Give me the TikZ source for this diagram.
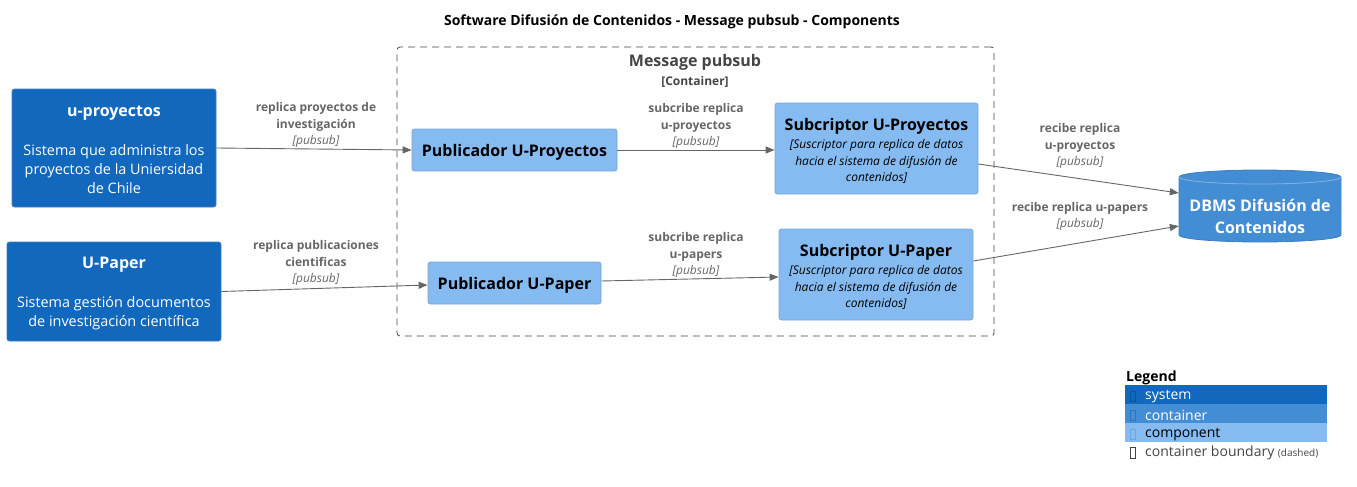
\documentclass[tikz,border=0pt]{standalone}
\usepackage{fontspec}
\setmainfont{Open Sans}
\usetikzlibrary{arrows.meta}
\definecolor{sysbg}{HTML}{1168BD}
\definecolor{sysbd}{HTML}{3C7FC0}
\definecolor{conbg}{HTML}{438DD5}
\definecolor{conbd}{HTML}{3C7FC0}
\definecolor{compbg}{HTML}{85BBF0}
\definecolor{compbd}{HTML}{78A8D8}
\definecolor{relgray}{HTML}{666666}
\definecolor{bndgray}{HTML}{444444}
\definecolor{tofusys}{HTML}{0C5296}
\definecolor{tofucon}{HTML}{3374B8}
\definecolor{tofucomp}{HTML}{6FA4DC}
\begin{document}
\begin{tikzpicture}[x=1pt,y=-1pt,
  sysbox/.style={draw=sysbd, fill=sysbg, rounded corners=2.5pt, inner sep=0pt, line width=0.8pt},
  compbox/.style={draw=compbd, fill=compbg, rounded corners=2.5pt, inner sep=0pt, line width=0.8pt},
  systxt/.style={text=white, align=center, inner sep=0pt, font=\fontsize{14.4}{19}\selectfont},
  comptxt/.style={text=black, align=center, inner sep=0pt},
  lbl/.style={text=relgray, align=center, inner sep=0pt, font=\fontsize{12}{16.5}\selectfont\bfseries},
  rel/.style={draw=relgray, line width=0.9pt, -{Triangle[length=9pt,width=7pt]}},
  legrow/.style={anchor=north west, minimum width=202pt, minimum height=19pt, inner sep=0pt},
  legtxt/.style={anchor=west, inner sep=0pt, font=\fontsize{14}{16}\selectfont},
  tofubox/.style={draw=#1, line width=0.8pt, minimum width=4.5pt, minimum height=10pt, inner sep=0pt},
]
\useasboundingbox (0,0) rectangle (1357,487);

% title
\node[font=\fontsize{14}{17}\selectfont\bfseries, inner sep=0pt] (title) at (672,22)
  {Software Difusión de Contenidos - Message pubsub - Components};

% boundary
\node[draw=bndgray, dashed, dash pattern=on 7pt off 5pt, rounded corners=3pt, line width=0.8pt,
  minimum width=597pt, minimum height=289pt, inner sep=0pt] (bnd) at (695.5,191.5) {};
\node[text=bndgray, align=center, inner sep=0pt, font=\fontsize{12}{19}\selectfont\bfseries] (bndt) at (695,70.5)
  {{\fontsize{16}{19}\selectfont Message pubsub}\\{}[Container]};

% systems
\node[sysbox, minimum width=204pt, minimum height=118pt] (upro) at (114,148) {};
\node[systxt] (uprot) at ([yshift=-2pt]upro.center)
  {{\fontsize{16}{19}\selectfont\bfseries u-proyectos}\\[20pt]Sistema que administra los\\proyectos de la Uniersidad\\de Chile};
\node[sysbox, minimum width=214pt, minimum height=99pt] (upap) at (114,291.5) {};
\node[systxt] (upapt) at ([yshift=-2pt]upap.center)
  {{\fontsize{16}{19}\selectfont\bfseries U-Paper}\\[20pt]Sistema gestión documentos\\de investigación científica};

% components
\node[compbox, minimum width=205pt, minimum height=42pt] (pubp) at (514.5,150) {};
\node[comptxt, font=\fontsize{16}{19}\selectfont\bfseries] (pubpt) at ([yshift=-2pt]pubp.center)
  {Publicador U-Proyectos};
\node[compbox, minimum width=173pt, minimum height=42pt] (pubpa) at (514.5,283) {};
\node[comptxt, font=\fontsize{16}{19}\selectfont\bfseries] (pubpat) at ([yshift=-2pt]pubpa.center)
  {Publicador U-Paper};
\node[compbox, minimum width=203pt, minimum height=91pt] (subp) at (876.5,148.5) {};
\node[comptxt, font=\fontsize{12}{16.5}\selectfont\itshape] (subpt) at ([yshift=-2.5pt]subp.center)
  {{\fontsize{16}{18}\selectfont\bfseries\upshape Subcriptor U-Proyectos}\\[1.5pt]{}[Suscriptor para replica de datos\\hacia el sistema de difusión de\\contenidos]};
\node[compbox, minimum width=194pt, minimum height=91pt] (subpa) at (876,274.5) {};
\node[comptxt, font=\fontsize{12}{16.5}\selectfont\itshape] (subpat) at ([yshift=-2.5pt]subpa.center)
  {{\fontsize{16}{18}\selectfont\bfseries\upshape Subcriptor U-Paper}\\[1.5pt]{}[Suscriptor para replica de datos\\hacia el sistema de difusión de\\contenidos]};

% database cylinder
\path[fill=conbg, draw=conbd, line width=0.8pt]
  (1179,177) -- (1179,235) arc[start angle=180, end angle=360, x radius=81pt, y radius=7pt]
  -- (1341,177) arc[start angle=0, end angle=180, x radius=81pt, y radius=7pt] -- cycle;
\draw[draw=sysbd!60!white, line width=0.8pt]
  (1179,177) arc[start angle=180, end angle=360, x radius=81pt, y radius=7pt];
\node[minimum width=162pt, minimum height=72pt, inner sep=0pt] (db) at (1260,206) {};
\node[text=white, align=center, inner sep=0pt, font=\fontsize{16}{22}\selectfont\bfseries] (dbl) at (1260,216.5)
  {DBMS Difusión de\\Contenidos};

% relations
\draw[rel] (upro.east) -- (pubp.west);
\node[lbl] (l1) at (316,125) {replica proyectos de\\investigación\\{\mdseries\itshape [pubsub]}};
\draw[rel] (upap.east) -- ([yshift=-2pt]pubpa.west);
\node[lbl] (l2) at (316,263) {replica publicaciones\\cientificas\\{\mdseries\itshape [pubsub]}};
\draw[rel] (pubp.east) -- (subp.west |- pubp.east);
\node[lbl] (l3) at (696,126) {subcribe replica\\u-proyectos\\{\mdseries\itshape [pubsub]}};
\draw[rel] ([yshift=2pt]pubpa.east) -- ([yshift=-2.5pt]subpa.west);
\node[lbl] (l4) at (696,255) {subcribe replica\\u-papers\\{\mdseries\itshape [pubsub]}};
\draw[rel] ([yshift=-15.5pt]subp.east) -- ([yshift=13pt]db.west);
\node[lbl] (l5) at (1080,146) {recibe replica\\u-proyectos\\{\mdseries\itshape [pubsub]}};
\draw[rel] ([yshift=13.5pt]subpa.east) -- ([yshift=-20pt]db.west);
\node[lbl] (l6) at (1080,216.5) {recibe replica u-papers\\{\mdseries\itshape [pubsub]}};

% legend
\node[anchor=west, inner sep=0pt, font=\fontsize{14}{16}\selectfont\bfseries] (lgt) at (1126,378) {Legend};
\node[legrow, fill=sysbg] (lsys) at (1125,385) {};
\node[legrow, fill=conbg] (lcon) at (1125,404) {};
\node[legrow, fill=compbg] (lcomp) at (1125,423) {};
\node[tofubox=tofusys] (tsys) at ([xshift=8pt,yshift=-1.5pt]lsys.west) {};
\node[tofubox=tofucon] (tcon) at ([xshift=8pt,yshift=-1.5pt]lcon.west) {};
\node[tofubox=tofucomp] (tcomp) at ([xshift=8pt,yshift=-1.5pt]lcomp.west) {};
\node[tofubox=bndgray, minimum height=11pt] (tbnd) at (1133,452.5) {};
\node[legtxt, text=white] (xsys) at ([xshift=20pt,yshift=-1.5pt]lsys.west) {system};
\node[legtxt, text=white] (xcon) at ([xshift=20pt,yshift=-1.5pt]lcon.west) {container};
\node[legtxt, text=black] (xcomp) at ([xshift=20pt,yshift=-1.5pt]lcomp.west) {component};
\node[legtxt, text=bndgray] (xbnd) at (1145,453) {container boundary {\fontsize{10}{12}\selectfont (dashed)}};
\end{tikzpicture}
\end{document}
